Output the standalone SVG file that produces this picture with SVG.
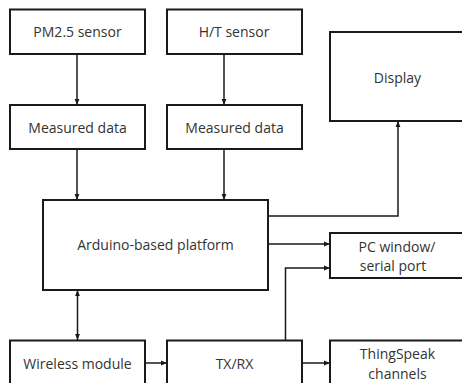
<svg xmlns="http://www.w3.org/2000/svg" width="462" height="383" viewBox="0 0 462 383">
  <style>
    .box { fill: #ffffff; stroke: #1a1a1a; stroke-width: 2; }
    .lbl { font-family: "Open Sans", "Noto Sans", sans-serif; font-size: 14px; fill: #333333; text-anchor: middle; }
    .wire { fill: none; stroke: #1a1a1a; stroke-width: 1.5; }
  </style>
  <defs>
    <marker id="head" viewBox="0 0 6 6" refX="6" refY="3" markerWidth="6" markerHeight="6" markerUnits="userSpaceOnUse" orient="auto-start-reverse">
      <path d="M0,0.6 L6,3 L0,5.4 z" fill="#1a1a1a"/>
    </marker>
  </defs>
  <rect width="462" height="383" fill="#ffffff"/>

  <g id="connectors">
    <line class="wire" x1="77" y1="54" x2="77" y2="105" marker-end="url(#head)"/>
    <line class="wire" x1="224" y1="54" x2="224" y2="105" marker-end="url(#head)"/>
    <line class="wire" x1="77" y1="149" x2="77" y2="200" marker-end="url(#head)"/>
    <line class="wire" x1="224" y1="149" x2="224" y2="200" marker-end="url(#head)"/>
    <polyline class="wire" points="268,216 398,216 398,121" marker-end="url(#head)"/>
    <line class="wire" x1="268" y1="244" x2="330" y2="244" marker-end="url(#head)"/>
    <polyline class="wire" points="285.5,340 285.5,268 330,268" marker-end="url(#head)"/>
    <line class="wire" x1="77.5" y1="290" x2="77.5" y2="340" marker-start="url(#head)" marker-end="url(#head)"/>
    <line class="wire" x1="145" y1="363" x2="167" y2="363" marker-end="url(#head)"/>
    <line class="wire" x1="302" y1="363" x2="330" y2="363" marker-end="url(#head)"/>
  </g>

  <g id="pm25-sensor">
    <rect class="box" x="10" y="9.5" width="135" height="44.5"/>
    <text class="lbl" x="77.5" y="37">PM2.5 sensor</text>
  </g>
  <g id="ht-sensor">
    <rect class="box" x="167" y="9.5" width="135" height="44.5"/>
    <text class="lbl" x="234" y="37">H/T sensor</text>
  </g>
  <g id="display">
    <rect class="box" x="330" y="32" width="136" height="89"/>
    <text class="lbl" x="397.5" y="83">Display</text>
  </g>
  <g id="measured-pm">
    <rect class="box" x="10" y="105" width="135" height="44"/>
    <text class="lbl" x="77.5" y="132.5">Measured data</text>
  </g>
  <g id="measured-ht">
    <rect class="box" x="167" y="105" width="135" height="44"/>
    <text class="lbl" x="234.5" y="132.5">Measured data</text>
  </g>
  <g id="arduino">
    <rect class="box" x="43" y="200" width="225" height="90"/>
    <text class="lbl" x="155.5" y="250">Arduino-based platform</text>
  </g>
  <g id="pc-window">
    <rect class="box" x="330" y="233" width="136" height="45"/>
    <text class="lbl" x="397" y="252">PC window/</text>
    <text class="lbl" x="393" y="271">serial port</text>
  </g>
  <g id="wireless">
    <rect class="box" x="10" y="340.5" width="135" height="50"/>
    <text class="lbl" x="77.5" y="368.5">Wireless module</text>
  </g>
  <g id="txrx">
    <rect class="box" x="167" y="340.5" width="135" height="50"/>
    <text class="lbl" x="234.5" y="368.5">TX/RX</text>
  </g>
  <g id="thingspeak">
    <rect class="box" x="330" y="340.5" width="136" height="50"/>
    <text class="lbl" x="397.5" y="358.5">ThingSpeak</text>
    <text class="lbl" x="397.5" y="378.5">channels</text>
  </g>
</svg>
